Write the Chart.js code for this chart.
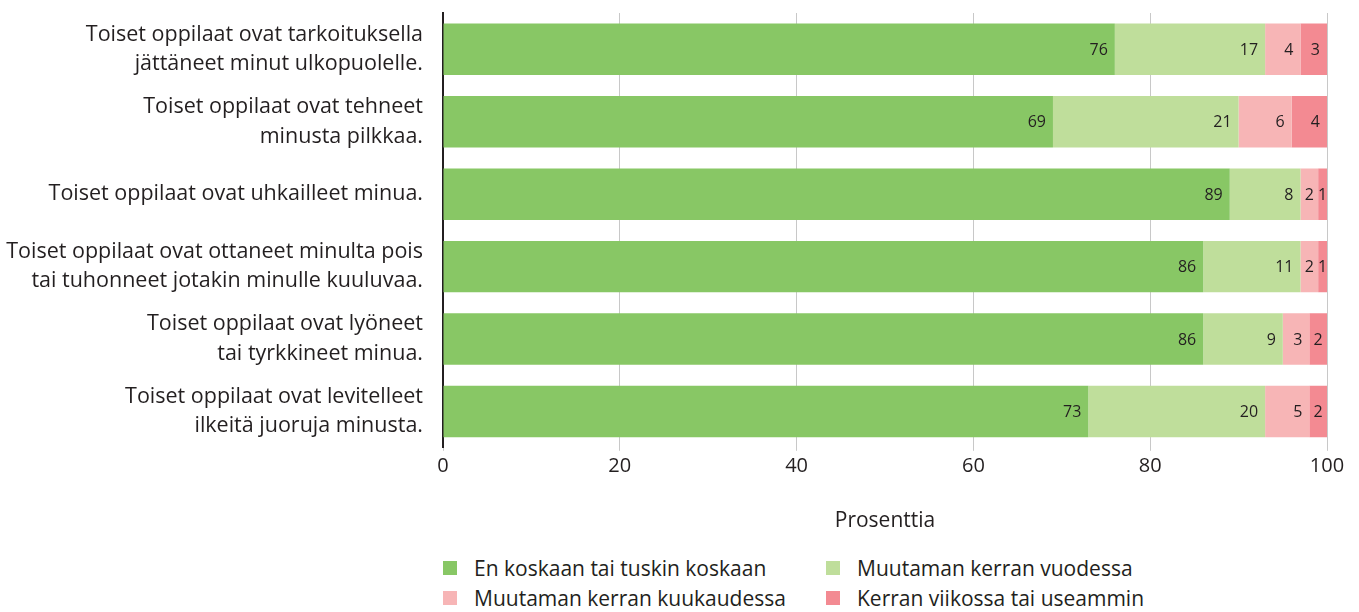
<!DOCTYPE html>
<html lang="fi">
<head>
<meta charset="utf-8">
<title>Kiusaaminen</title>
<script src="https://cdn.jsdelivr.net/npm/chart.js@4/dist/chart.umd.min.js"></script>
<style>
    body { margin: 0; background: #fff; font-family: 'Open Sans', sans-serif; color: #231f20; }
    #wrap { position: relative; width: 1359px; height: 612px; }
    #chart { position: absolute; left: 0; top: 0; }
    #legend { position: absolute; left: 443px; top: 556px; display: grid; grid-template-columns: 383px 400px; row-gap: 6px; font-size: 21px; }
    .item { display: flex; align-items: center; height: 24px; white-space: nowrap; }
    .box { width: 14px; height: 14px; margin-right: 17px; flex: none; }
</style>
</head>
<body>
<div id="wrap">
    <canvas id="chart" width="1359" height="540"></canvas>
    <div id="legend"></div>
</div>
<script>
// Väittämät (y-akseli)
const categories = [
    ['Toiset oppilaat ovat tarkoituksella', 'jättäneet minut ulkopuolelle.'],
    ['Toiset oppilaat ovat tehneet', 'minusta pilkkaa.'],
    ['Toiset oppilaat ovat uhkailleet minua.'],
    ['Toiset oppilaat ovat ottaneet minulta pois', 'tai tuhonneet jotakin minulle kuuluvaa.'],
    ['Toiset oppilaat ovat lyöneet', 'tai tyrkkineet minua.'],
    ['Toiset oppilaat ovat levitelleet', 'ilkeitä juoruja minusta.']
];

// Sarjat
const seriesNames = [
    'En koskaan tai tuskin koskaan',
    'Muutaman kerran vuodessa',
    'Muutaman kerran kuukaudessa',
    'Kerran viikossa tai useammin'
];
const neverValues = [76, 69, 89, 86, 86, 73];
const yearlyValues = [17, 21, 8, 11, 9, 20];
const monthlyValues = [4, 6, 2, 2, 3, 5];
const weeklyValues = [3, 4, 1, 1, 2, 2];
const seriesColors = ['#88c765', '#bfde9b', '#f7b5b6', '#f38a92'];

const xTicks = [0, 20, 40, 60, 80, 100];
const xTitle = 'Prosenttia';

document.addEventListener('DOMContentLoaded', function () {
    initializeBullyingChart();
    buildLegend();
});

/**
 * Piirtää arvot palkkien sisälle
 */
const valueLabels = {
    id: 'valueLabels',
    afterDatasetsDraw(chart) {
        const ctx = chart.ctx;
        ctx.save();
        ctx.font = '16px "Open Sans"';
        ctx.fillStyle = '#231f20';
        ctx.textAlign = 'right';
        ctx.textBaseline = 'middle';
        chart.data.datasets.forEach((ds, i) => {
            const meta = chart.getDatasetMeta(i);
            meta.data.forEach((bar, j) => {
                const text = String(ds.data[j]);
                const w = bar.x - bar.base;
                const tw = ctx.measureText(text).width;
                const pad = Math.min(7, (w - tw) / 2);
                ctx.fillText(text, bar.x - pad, bar.y + 1);
            });
        });
        ctx.restore();
    }
};

function initializeBullyingChart() {
    const chartCanvas = document.getElementById('chart');
    const valueLists = [neverValues, yearlyValues, monthlyValues, weeklyValues];

    new Chart(chartCanvas, {
        type: 'bar',
        data: {
            labels: categories,
            datasets: seriesNames.map((name, i) => ({
                label: name,
                data: valueLists[i],
                backgroundColor: seriesColors[i],
                borderWidth: 0,
                categoryPercentage: 0.71,
                barPercentage: 1
            }))
        },
        options: {
            indexAxis: 'y',
            responsive: false,
            animation: false,
            layout: {
                padding: { top: 13, right: 32, bottom: 6, left: 0 }
            },
            scales: {
                x: {
                    stacked: true,
                    min: 0,
                    max: 100,
                    afterBuildTicks: function (scale) {
                        scale.ticks = xTicks.map(v => ({ value: v }));
                    },
                    grid: {
                        color: '#c8c8c8',
                        lineWidth: 1,
                        tickLength: 3
                    },
                    border: { display: false },
                    ticks: {
                        color: '#231f20',
                        font: { family: 'Open Sans', size: 20 },
                        padding: 3
                    },
                    title: {
                        display: true,
                        text: xTitle,
                        color: '#231f20',
                        font: { family: 'Open Sans', size: 21 },
                        padding: { top: 28, bottom: 0 }
                    }
                },
                y: {
                    stacked: true,
                    afterFit: function (scale) {
                        // kiinteä vasen reuna, ei ylimääräistä täytettä
                        scale.width = 443;
                        scale.paddingTop = 0;
                        scale.paddingBottom = 0;
                    },
                    grid: { display: false },
                    border: { display: true, color: '#231f20', width: 2 },
                    ticks: {
                        color: '#231f20',
                        font: { family: 'Open Sans', size: 21.5, lineHeight: 1.37 },
                        padding: 12
                    }
                }
            },
            plugins: {
                legend: { display: false },
                tooltip: { enabled: false }
            }
        },
        plugins: [valueLabels]
    });
}

/**
 * Selite kahteen sarakkeeseen
 */
function buildLegend() {
    const legend = document.getElementById('legend');
    seriesNames.forEach((name, i) => {
        const item = document.createElement('div');
        item.className = 'item';
        const box = document.createElement('span');
        box.className = 'box';
        box.style.background = seriesColors[i];
        item.appendChild(box);
        item.appendChild(document.createTextNode(name));
        legend.appendChild(item);
    });
}
</script>
</body>
</html>
